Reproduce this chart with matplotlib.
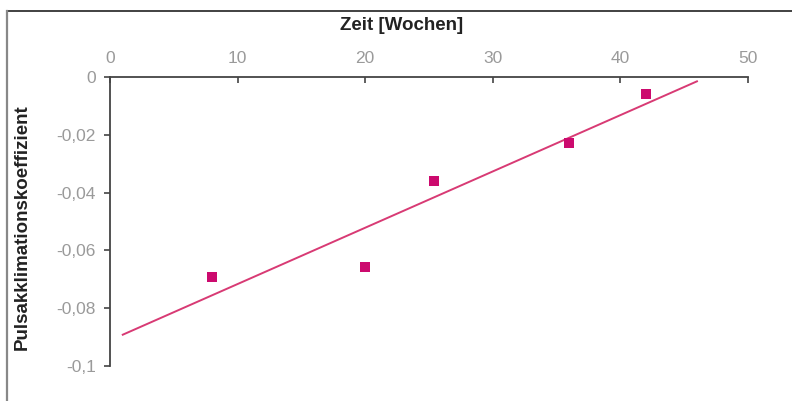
import numpy as np
import matplotlib
matplotlib.use("Agg")
import matplotlib.pyplot as plt
from matplotlib.lines import Line2D
from matplotlib import ticker

# Daten
wochen = [8, 20, 25.4, 36, 42]
koeff = [-0.0692, -0.0657, -0.0360, -0.0228, -0.0059]
x_ticks = [0, 10, 20, 30, 40, 50]
y_ticks = [0, -0.02, -0.04, -0.06, -0.08, -0.1]
trend_von, trend_bis = 1, 46

plt.rcParams['font.family'] = ['Liberation Sans', 'DejaVu Sans']

fig = plt.figure(figsize=(7.92, 4.01), dpi=100)
ax = fig.add_axes([110 / 792, 1 - 366 / 401, (748 - 110) / 792, (366 - 77) / 401])

# lineare Trendlinie
m, b = np.polyfit(wochen, koeff, 1)
xt = np.array([trend_von, trend_bis])
ax.plot(xt, m * xt + b, color='#d83a74', lw=1.4, zorder=2)

ax.scatter(wochen, koeff, marker='s', s=58, color='#cc0a6e', zorder=3, linewidths=0)

ax.set_xlim(0, 50)
ax.set_ylim(-0.1, 0)
ax.set_xticks(x_ticks)
ax.set_yticks(y_ticks)
ax.yaxis.set_major_formatter(ticker.FuncFormatter(lambda v, p: ('%g' % round(v, 2)).replace('.', ',')))

for s in ['bottom', 'right']:
    ax.spines[s].set_visible(False)
for s in ['top', 'left']:
    ax.spines[s].set_color('#444444')
    ax.spines[s].set_linewidth(1.3)

ax.xaxis.tick_top()
ax.tick_params(axis='x', direction='in', length=4, width=1.2, color='#444444',
               labelsize=12.5, labelcolor='#9a9a9a', pad=8)
ax.tick_params(axis='y', direction='out', length=4, width=1.2, color='#444444',
               labelsize=12.5, labelcolor='#9a9a9a', pad=6)

fig.text(402 / 792, 1 - 26 / 401, 'Zeit [Wochen]', ha='center', va='center',
         fontsize=13.5, fontweight='bold', color='#222222')
fig.text(22 / 792, 1 - 227 / 401, 'Pulsakklimationskoeffizient', ha='center', va='center',
         rotation=90, fontsize=13.5, fontweight='bold', color='#222222')

# Rahmen
fig.add_artist(Line2D([7 / 792, 1], [1 - 11 / 401] * 2, color='#333333', lw=1.3))
fig.add_artist(Line2D([7 / 792] * 2, [0, 1 - 11 / 401], color='#888888', lw=1.6))

fig.savefig('out.png', dpi=100)
